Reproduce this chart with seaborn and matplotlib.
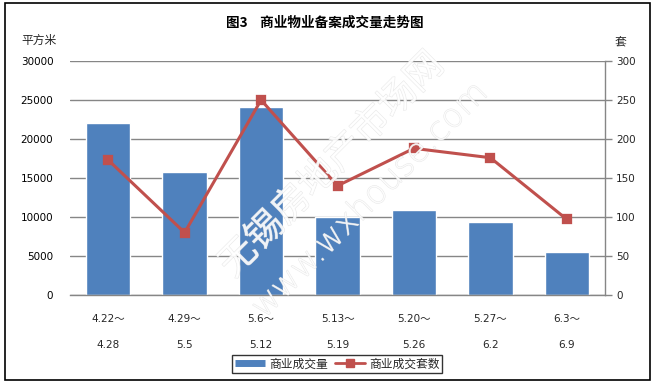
import matplotlib
matplotlib.use("Agg")
import matplotlib.pyplot as plt
import matplotlib.patheffects as pe
from matplotlib.lines import Line2D
from matplotlib.patches import Rectangle
import seaborn as sns
import pandas as pd

categories = ["4.22～\n\n4.28", "4.29～\n\n5.5", "5.6～\n\n5.12", "5.13～\n\n5.19",
              "5.20～\n\n5.26", "5.27～\n\n6.2", "6.3～\n\n6.9"]
area = [22000, 15800, 24100, 10000, 10900, 9400, 5500]
units = [173, 80, 250, 140, 188, 176, 97]
left_ticks = [0, 5000, 10000, 15000, 20000, 25000, 30000]
right_ticks = [0, 50, 100, 150, 200, 250, 300]

sns.set_theme(style="white")
plt.rcParams["font.family"] = ["DejaVu Sans", "Noto Sans CJK SC"]
CJK = ["Noto Sans CJK SC", "DejaVu Sans"]

BLUE = "#4F81BD"
RED = "#C0504D"
GRID = "#868686"

df = pd.DataFrame({"period": categories, "area": area, "units": units})

fig = plt.figure(figsize=(6.53, 3.84), dpi=100)
ax = fig.add_axes([70 / 653, 1 - 295 / 384, (605 - 70) / 653, (295 - 61) / 384])

sns.barplot(data=df, x="period", y="area", color=BLUE, width=0.58,
            saturation=1, ax=ax, zorder=2)
ax.set_ylim(0, 30000)
ax.set_xlim(-0.5, 6.5)
ax.set_yticks(left_ticks)
ax.set_yticklabels([str(v) for v in left_ticks], fontsize=7.5, color="#000000")
ax.yaxis.grid(True, color=GRID, linewidth=1)
ax.set_axisbelow(True)
for s in ["top", "left", "right"]:
    ax.spines[s].set_visible(False)
ax.spines["bottom"].set_color(GRID)
ax.spines["bottom"].set_linewidth(1)
ax.tick_params(axis="y", length=0, pad=12)
ax.tick_params(axis="x", length=0, pad=14, labelsize=7.5)
ax.set_xlabel("")
ax.set_ylabel("")
for lab in ax.get_xticklabels():
    lab.set_linespacing(1.35)

ax2 = ax.twinx()
sns.pointplot(data=df, x="period", y="units", color=RED, markers="s",
              markersize=6, linewidth=2.2, ax=ax2, zorder=4)
ax2.set_ylim(0, 300)
ax2.set_xlim(-0.5, 6.5)
ax2.set_yticks(right_ticks)
ax2.set_yticklabels([str(v) for v in right_ticks], fontsize=7.5)
ax2.set_ylabel("")
ax2.set_xlabel("")
for s in ["top", "left", "bottom"]:
    ax2.spines[s].set_visible(False)
ax2.spines["right"].set_color(GRID)
ax2.spines["right"].set_linewidth(1)
ax2.tick_params(axis="y", direction="out", length=5, color=GRID, width=1, pad=3, right=True)

# titles and units
fig.text(325 / 653, 1 - 23 / 384, "图3    商业物业备案成交量走势图", ha="center", va="center",
         fontsize=9.8, fontweight="bold", family=CJK, color="black")
fig.text(39 / 653, 1 - 40 / 384, "平方米", ha="center", va="center", fontsize=8.5, family=CJK)
fig.text(620 / 653, 1 - 43 / 384, "套", ha="center", va="center", fontsize=8.5, family=CJK)

# watermark
wm = [pe.withStroke(linewidth=0.6, foreground="#dcdcdc")]
fig.text(332 / 653, 1 - 165 / 384, "无锡房地产市场网", ha="center", va="center",
         rotation=45, fontsize=27, color="white", alpha=0.7, family=CJK,
         fontweight="light", path_effects=wm, zorder=10)
fig.text(370 / 653, 1 - 200 / 384, "www.wxhouse.com", ha="center", va="center",
         rotation=45, fontsize=24, color="white", alpha=0.7, family=["DejaVu Sans"],
         fontweight="light", path_effects=wm, zorder=10)

# legend
handles = [Line2D([0], [0], color=BLUE, linewidth=5, solid_capstyle="butt"),
           Line2D([0], [0], color=RED, linewidth=2, marker="s", markersize=6)]
leg = fig.legend(handles, ["商业成交量", "商业成交套数"], loc="center",
                 bbox_to_anchor=(337 / 653, 1 - 364 / 384), ncol=2, frameon=True,
                 fancybox=False, edgecolor="black", prop={"family": CJK, "size": 8.5},
                 handlelength=2.6, handletextpad=0.3, columnspacing=0.6,
                 borderpad=0.2, borderaxespad=0)
leg.get_frame().set_linewidth(1)

# outer frame
fig.add_artist(Rectangle((5 / 653, 4 / 384), 645 / 653, 377 / 384, transform=fig.transFigure,
                         fill=False, edgecolor="black", linewidth=1.2))

fig.savefig("out.png", dpi=100)
